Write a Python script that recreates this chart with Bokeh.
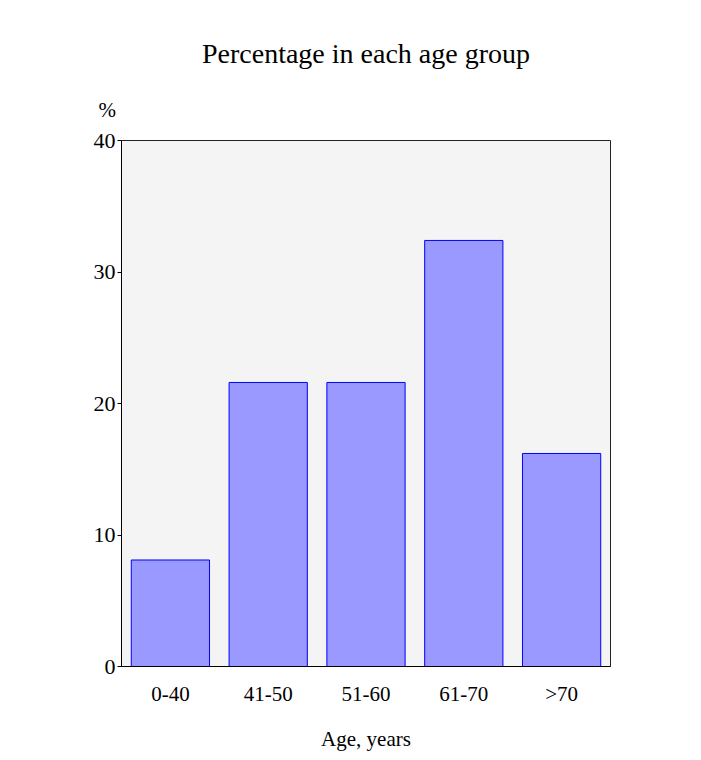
from bokeh.plotting import figure
from bokeh.models import ColumnDataSource, Range1d, Title
from bokeh.embed import file_html
from bokeh.resources import INLINE

categories = ["0-40", "41-50", "51-60", "61-70", ">70"]
percentages = [8.1, 21.6, 21.6, 32.4, 16.2]
y_ticks = [0, 10, 20, 30, 40]
title_text = "Percentage in each age group"
x_label = "Age, years"
y_unit = "%"

FONT = "Liberation Serif"

src = ColumnDataSource(dict(cat=categories, val=percentages))

p = figure(x_range=categories, y_range=Range1d(0, 40), width=701, height=760,
           output_backend="svg", toolbar_location=None,
           min_border_left=121, min_border_right=91, min_border_top=140, min_border_bottom=94)

p.vbar(x="cat", top="val", width=0.8, source=src, fill_color="#9999ff",
       line_color="#0000ff", line_width=1)

p.background_fill_color = "#f4f4f4"
p.border_fill_color = "white"
p.outline_line_color = "#222222"
p.xgrid.visible = False
p.ygrid.visible = False

p.yaxis.ticker = y_ticks
p.yaxis.major_tick_out = 4
p.yaxis.major_tick_in = 0
p.yaxis.minor_tick_line_color = None
p.yaxis.axis_line_color = "black"
p.yaxis.major_label_text_font = FONT
p.yaxis.major_label_text_font_size = "22px"
p.yaxis.major_label_text_color = "black"
p.yaxis.major_label_standoff = 2

p.xaxis.major_tick_line_color = None
p.xaxis.minor_tick_line_color = None
p.xaxis.axis_line_color = "black"
p.xaxis.major_label_text_font = FONT
p.xaxis.major_label_text_font_size = "21px"
p.xaxis.major_label_text_color = "black"
p.xaxis.major_label_standoff = 9
p.xaxis.axis_label = x_label
p.xaxis.axis_label_text_font = FONT
p.xaxis.axis_label_text_font_style = "normal"
p.xaxis.axis_label_text_font_size = "21px"
p.xaxis.axis_label_text_color = "black"
p.xaxis.axis_label_standoff = 18

p.add_layout(Title(text=y_unit, align="left", offset=-23, text_font=FONT, text_font_size="21px",
                   text_font_style="normal", text_color="black", standoff=37), "above")
p.add_layout(Title(text=title_text, align="center", text_font=FONT, text_font_size="28px",
                   text_font_style="normal", text_color="black", standoff=18), "above")

open("out.html", "w").write(file_html(p, INLINE))
